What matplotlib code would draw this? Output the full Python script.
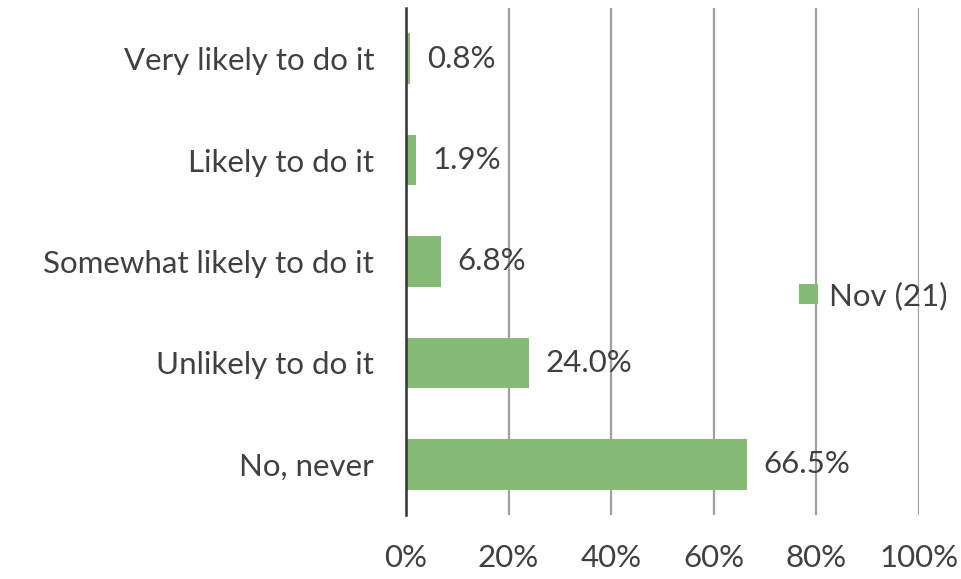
import matplotlib
matplotlib.use("Agg")
import matplotlib.pyplot as plt
from matplotlib.patches import Patch

categories = ["No, never", "Unlikely to do it", "Somewhat likely to do it",
              "Likely to do it", "Very likely to do it"]
values = [66.5, 24.0, 6.8, 1.9, 0.8]
xticks = [0, 20, 40, 60, 80, 100]
xtick_labels = ["0%", "20%", "40%", "60%", "80%", "100%"]
series_name = "Nov (21)"

plt.rcParams['font.family'] = ['Lato', 'DejaVu Sans']
FS = 22.5
text_color = "#404040"
bar_color = "#85BB74"

fig = plt.figure(figsize=(9.61, 5.79), dpi=100)
ax = fig.add_axes([406/961, 1-515/579, (919-406)/961, (515-8)/579])

y = list(range(len(categories)))
ax.barh(y, values, height=0.5, color=bar_color, zorder=3)
for yi, v in zip(y, values):
    ax.annotate(f"{v:.1f}%", xy=(v, yi), xytext=(12, 0), textcoords="offset points",
                va="center", ha="left", fontsize=FS, color=text_color)

ax.set_xlim(0, 100)
ax.set_ylim(-0.5, 4.5)
ax.set_xticks(xticks)
ax.set_xticklabels(xtick_labels)
ax.set_yticks(y)
ax.set_yticklabels(categories)
ax.tick_params(axis='both', length=0, labelsize=FS, colors=text_color)
ax.tick_params(axis='x', pad=21)
ax.tick_params(axis='y', pad=23)
ax.grid(axis='x', color="#a0a0a0", linewidth=1.6, zorder=0)
for s in ["top", "right", "bottom"]:
    ax.spines[s].set_visible(False)
ax.spines["left"].set_color("#333333")
ax.spines["left"].set_linewidth(1.8)
ax.spines["left"].set_zorder(4)

handle = Patch(facecolor=bar_color, edgecolor='none')
fig.legend([handle], [series_name], loc="center left",
           bbox_to_anchor=(799/961, 1-296/579), frameon=False, fontsize=FS,
           handlelength=0.6, handleheight=0.6, handletextpad=0.35,
           borderaxespad=0, borderpad=0, labelcolor=text_color)

fig.savefig("out.png", dpi=100)
